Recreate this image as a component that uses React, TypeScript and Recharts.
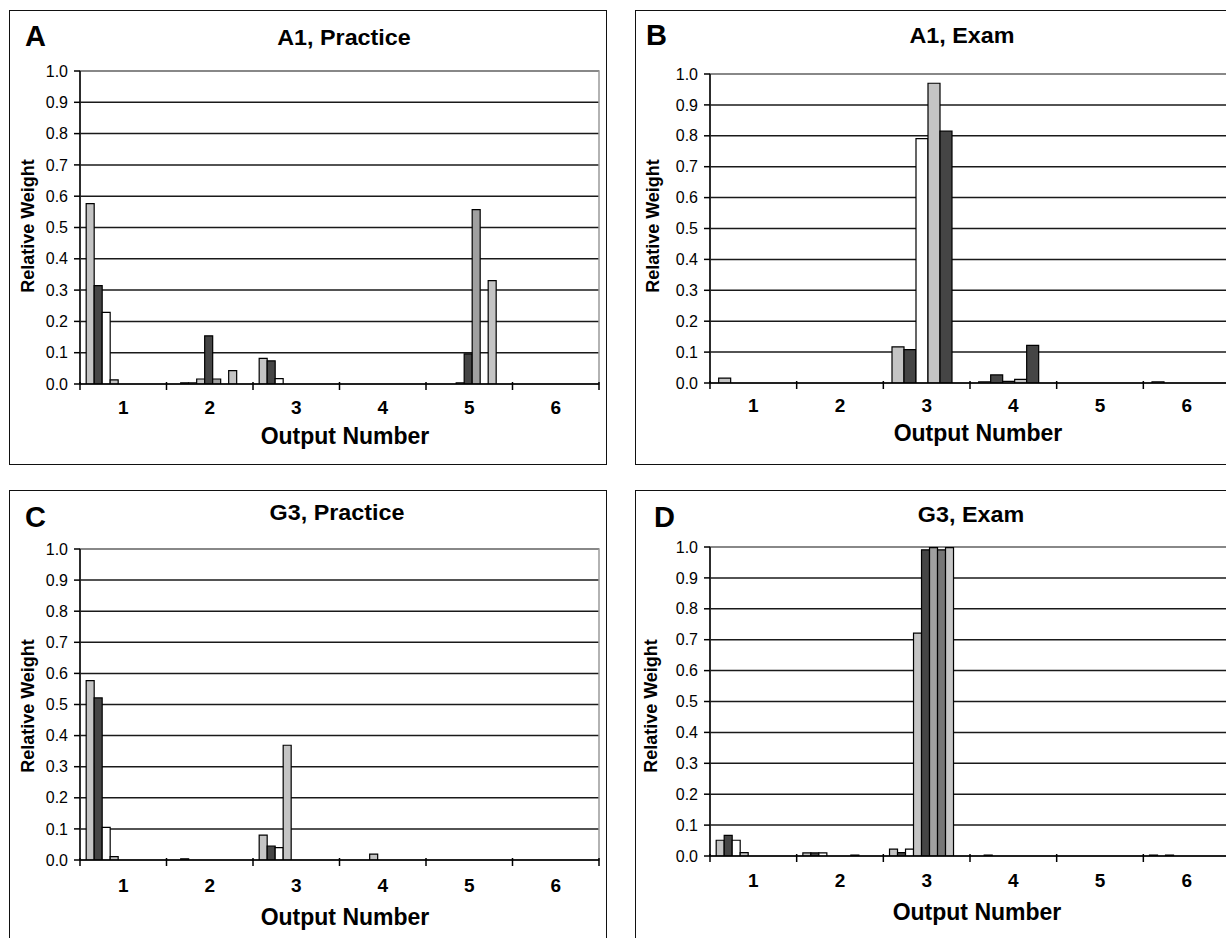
import React from 'react';
import { BarChart, Bar, XAxis, YAxis, CartesianGrid, ReferenceArea } from 'recharts';

const categories = ['1', '2', '3', '4', '5', '6'];
const yTicks = [0, 0.1, 0.2, 0.3, 0.4, 0.5, 0.6, 0.7, 0.8, 0.9, 1.0];

// Panel A: A1, Practice (9 series)
const A_s1 = [0.576, 0, 0.082, 0, 0, 0];
const A_s2 = [0.314, 0.004, 0.074, 0, 0, 0];
const A_s3 = [0.229, 0.004, 0.017, 0, 0, 0];
const A_s4 = [0.013, 0.016, 0, 0, 0.004, 0];
const A_s5 = [0, 0.154, 0, 0, 0.096, 0];
const A_s6 = [0, 0.016, 0, 0, 0.557, 0];
const A_s7 = [0, 0, 0, 0, 0, 0];
const A_s8 = [0, 0.043, 0, 0, 0.33, 0];
const A_s9 = [0, 0, 0, 0, 0, 0];

// Panel B: A1, Exam (6 series)
const B_s1 = [0.016, 0, 0.117, 0.004, 0, 0.004];
const B_s2 = [0, 0, 0.108, 0.026, 0, 0];
const B_s3 = [0, 0, 0.791, 0.005, 0, 0];
const B_s4 = [0, 0, 0.97, 0.012, 0, 0];
const B_s5 = [0, 0, 0.815, 0.122, 0, 0];
const B_s6 = [0, 0, 0, 0, 0, 0];

// Panel C: G3, Practice (9 series)
const C_s1 = [0.577, 0, 0.08, 0, 0, 0];
const C_s2 = [0.521, 0.004, 0.045, 0, 0, 0];
const C_s3 = [0.105, 0, 0.04, 0, 0, 0];
const C_s4 = [0.011, 0, 0.369, 0.019, 0, 0];
const C_s5 = [0, 0, 0, 0, 0, 0];
const C_s6 = [0, 0, 0, 0, 0, 0];
const C_s7 = [0, 0, 0, 0, 0, 0];
const C_s8 = [0, 0, 0, 0, 0, 0];
const C_s9 = [0, 0, 0, 0, 0, 0];

// Panel D: G3, Exam (9 series)
const D_s1 = [0.051, 0.01, 0.022, 0, 0, 0.003];
const D_s2 = [0.067, 0.01, 0.011, 0.003, 0, 0];
const D_s3 = [0.051, 0.01, 0.022, 0, 0, 0.003];
const D_s4 = [0.011, 0, 0.721, 0, 0, 0];
const D_s5 = [0, 0, 0.991, 0, 0, 0];
const D_s6 = [0, 0, 0.998, 0, 0, 0];
const D_s7 = [0, 0.003, 0.991, 0, 0, 0];
const D_s8 = [0, 0, 0.998, 0, 0, 0];
const D_s9 = [0, 0, 0, 0, 0, 0];

const colors9 = ['#c4c4c4', '#454545', '#ffffff', '#c4c4c4', '#454545', '#a0a0a0', '#767676', '#c4c4c4', '#e6e6e6'];
const colors6 = ['#c4c4c4', '#454545', '#ffffff', '#c4c4c4', '#454545', '#a0a0a0'];

const FONT = '"Liberation Sans", Arial, Helvetica, sans-serif';

const panels = [
  {
    letter: 'A', title: 'A1, Practice',
    frame: { left: 9, top: 10, width: 598, height: 455 },
    plot: { left: 80, top: 71, right: 599, bottom: 384 },
    letterPos: { left: 25, cy: 36 }, titlePos: { cx: 344, cy: 38 },
    yLabelPos: { cx: 28, cy: 226 }, xLabelPos: { cx: 345, cy: 436 }, tickDy: 23,
    series: [A_s1, A_s2, A_s3, A_s4, A_s5, A_s6, A_s7, A_s8, A_s9], colors: colors9, gap: '7.14%',
  },
  {
    letter: 'B', title: 'A1, Exam',
    frame: { left: 635, top: 10, width: 610, height: 455 },
    plot: { left: 710, top: 74, right: 1230, bottom: 383 },
    letterPos: { left: 646, cy: 35 }, titlePos: { cx: 962, cy: 36 },
    yLabelPos: { cx: 653, cy: 226 }, xLabelPos: { cx: 978, cy: 433 }, tickDy: 22,
    series: [B_s1, B_s2, B_s3, B_s4, B_s5, B_s6], colors: colors6, gap: '10%',
  },
  {
    letter: 'C', title: 'G3, Practice',
    frame: { left: 9, top: 490, width: 598, height: 470 },
    plot: { left: 80, top: 549, right: 599, bottom: 860 },
    letterPos: { left: 25, cy: 517 }, titlePos: { cx: 337, cy: 513 },
    yLabelPos: { cx: 28, cy: 706 }, xLabelPos: { cx: 345, cy: 917 }, tickDy: 25,
    series: [C_s1, C_s2, C_s3, C_s4, C_s5, C_s6, C_s7, C_s8, C_s9], colors: colors9, gap: '7.14%',
  },
  {
    letter: 'D', title: 'G3, Exam',
    frame: { left: 635, top: 490, width: 610, height: 470 },
    plot: { left: 710, top: 547, right: 1230, bottom: 856 },
    letterPos: { left: 654, cy: 517 }, titlePos: { cx: 971, cy: 515 },
    yLabelPos: { cx: 651, cy: 706 }, xLabelPos: { cx: 977, cy: 912 }, tickDy: 24,
    series: [D_s1, D_s2, D_s3, D_s4, D_s5, D_s6, D_s7, D_s8, D_s9], colors: colors9, gap: '7.14%',
  },
];

const XTick = (props: any) => {
  const { x, y, payload, bandHalf, tickDy } = props;
  const off = payload && payload.offset ? payload.offset : bandHalf;
  const isLast = payload && payload.value === categories[categories.length - 1];
  return (
    <g>
      <line x1={x - off} x2={x - off} y1={y - 2} y2={y + 6} stroke="#000" strokeWidth={1.5} />
      {isLast && <line x1={x + off} x2={x + off} y1={y - 2} y2={y + 6} stroke="#000" strokeWidth={1.5} />}
      <text x={x} y={y + tickDy} textAnchor="middle" dominantBaseline="central" fontFamily={FONT} fontWeight="bold" fontSize={19} fill="#000">
        {payload.value}
      </text>
    </g>
  );
};

function Panel({ cfg }: { cfg: any }) {
  const { frame, plot, letter, title, letterPos, titlePos, yLabelPos, xLabelPos, series, colors, gap, tickDy } = cfg;
  const YW = 60, XH = 60, MT = 14, MR = 12;
  const plotW = plot.right - plot.left;
  const plotH = plot.bottom - plot.top;
  const chartW = YW + plotW + MR;
  const chartH = MT + plotH + XH;
  const data = categories.map((c, i) => {
    const row: any = { name: c };
    series.forEach((s: number[], k: number) => { row['s' + k] = s[i]; });
    return row;
  });
  const bandHalf = plotW / categories.length / 2;
  return (
    <>
      <div style={{ position: 'absolute', left: frame.left, top: frame.top, width: frame.width, height: frame.height, border: '1.5px solid #111', boxSizing: 'border-box', background: '#fff' }} />
      <div style={{ position: 'absolute', left: plot.left - YW, top: plot.top - MT }}>
        <BarChart width={chartW} height={chartH} data={data} margin={{ top: MT, right: MR, bottom: 0, left: 0 }} barCategoryGap={gap} barGap={0}>
          <CartesianGrid vertical={false} stroke="#1a1a1a" strokeWidth={1.5} />
          <ReferenceArea x1="1" x2="6" y1={0} y2={1} fill="none" stroke="#9a9a9a" strokeWidth={1.5} ifOverflow="visible" />
          <XAxis
            dataKey="name"
            height={XH}
            interval={0}
            axisLine={{ stroke: '#000', strokeWidth: 1.5 }}
            tickLine={false}
            tickSize={0}
            tickMargin={0}
            tick={<XTick bandHalf={bandHalf} tickDy={tickDy} />}
          />
          <YAxis
            width={YW}
            domain={[0, 1]}
            ticks={yTicks}
            interval={0}
            allowDataOverflow
            axisLine={{ stroke: '#000', strokeWidth: 1.5 }}
            tickLine={{ stroke: '#000', strokeWidth: 1.5 }}
            tickSize={6}
            tickMargin={6}
            tickFormatter={(v: number) => v.toFixed(1)}
            tick={{ fill: '#000', fontSize: 16, fontFamily: FONT }}
          />
          {series.map((_: number[], k: number) => (
            <Bar key={k} dataKey={'s' + k} fill={colors[k]} stroke="#000" strokeWidth={1.2} isAnimationActive={false} />
          ))}
        </BarChart>
      </div>
      <div style={{ position: 'absolute', left: letterPos.left, top: letterPos.cy, transform: 'translateY(-50%)', fontFamily: FONT, fontWeight: 'bold', fontSize: 29, lineHeight: 1, color: '#000' }}>{letter}</div>
      <div style={{ position: 'absolute', left: titlePos.cx, top: titlePos.cy, transform: 'translate(-50%, -50%) scaleX(1.06)', fontFamily: FONT, fontWeight: 'bold', fontSize: 22, lineHeight: 1, whiteSpace: 'nowrap', color: '#000' }}>{title}</div>
      <div style={{ position: 'absolute', left: yLabelPos.cx, top: yLabelPos.cy, transform: 'translate(-50%, -50%) rotate(-90deg)', fontFamily: FONT, fontWeight: 'bold', fontSize: 18, lineHeight: 1, whiteSpace: 'nowrap', color: '#000' }}>Relative Weight</div>
      <div style={{ position: 'absolute', left: xLabelPos.cx, top: xLabelPos.cy, transform: 'translate(-50%, -50%)', fontFamily: FONT, fontWeight: 'bold', fontSize: 23, lineHeight: 1, whiteSpace: 'nowrap', color: '#000' }}>Output Number</div>
    </>
  );
}

export default function App() {
  return (
    <div style={{ position: 'fixed', left: 0, top: 0, width: 1226, height: 938, overflow: 'hidden', background: '#fff' }}>
      {panels.map((p) => (
        <Panel key={p.letter} cfg={p} />
      ))}
    </div>
  );
}
